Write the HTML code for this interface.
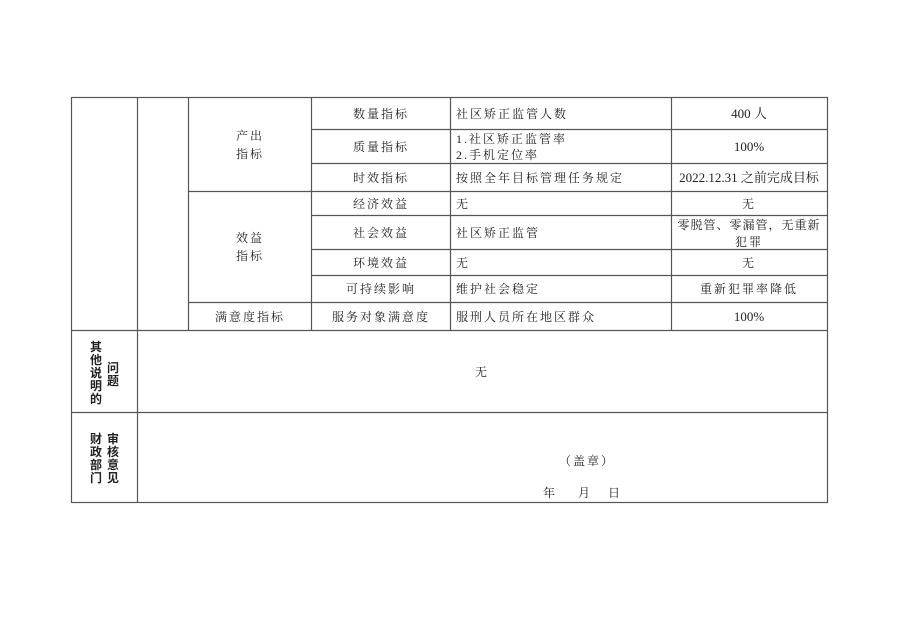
<!DOCTYPE html>
<html><head><meta charset="utf-8"><style>
html,body{margin:0;padding:0;background:#fff;width:898px;height:635px;overflow:hidden}
svg text{font-family:"Liberation Serif","Noto Serif CJK SC","Noto Sans CJK SC",serif;font-size:12px;fill:#222}
.s{font-family:"Liberation Sans","Noto Sans CJK SC",sans-serif;font-weight:bold}
</style></head><body>
<svg width="898" height="635" xmlns="http://www.w3.org/2000/svg">
<g stroke="#555" stroke-width="1.2" fill="none">
<rect x="71.5" y="97.5" width="756" height="405"/>
<line x1="137.5" y1="97" x2="137.5" y2="502"/>
<line x1="188.5" y1="97" x2="188.5" y2="330"/>
<line x1="311.5" y1="97" x2="311.5" y2="330"/>
<line x1="450.5" y1="97" x2="450.5" y2="330"/>
<line x1="671.5" y1="97" x2="671.5" y2="330"/>
<line x1="311" y1="129.5" x2="828" y2="129.5"/>
<line x1="311" y1="163.5" x2="828" y2="163.5"/>
<line x1="188" y1="191.5" x2="828" y2="191.5"/>
<line x1="311" y1="215.5" x2="828" y2="215.5"/>
<line x1="311" y1="249.5" x2="828" y2="249.5"/>
<line x1="311" y1="275.5" x2="828" y2="275.5"/>
<line x1="188" y1="302.5" x2="828" y2="302.5"/>
<line x1="71" y1="330.5" x2="828" y2="330.5"/>
<line x1="71" y1="412.5" x2="828" y2="412.5"/>
</g>
<g text-anchor="middle" letter-spacing="2">
<text x="250" y="140">产出</text><text x="250" y="158">指标</text>
<text x="250" y="242">效益</text><text x="250" y="260">指标</text>
<text x="250" y="321">满意度指标</text>
<text x="381" y="118">数量指标</text>
<text x="381" y="151">质量指标</text>
<text x="381" y="182">时效指标</text>
<text x="381" y="208">经济效益</text>
<text x="381" y="237">社会效益</text>
<text x="381" y="267">环境效益</text>
<text x="381" y="293">可持续影响</text>
<text x="381" y="321">服务对象满意度</text>
<text x="749" y="118" letter-spacing="0" style="font-size:13px">400 人</text>
<text x="749" y="151" letter-spacing="0" style="font-size:13px">100%</text>
<text x="749" y="182" letter-spacing="0" style="font-size:13px">2022.12.31 之前完成目标</text>
<text x="749" y="208">无</text>
<text x="749" y="229" letter-spacing="1">零脱管、零漏管，无重新</text>
<text x="749" y="246">犯罪</text>
<text x="749" y="267">无</text>
<text x="749" y="293">重新犯罪率降低</text>
<text x="749" y="321" letter-spacing="0" style="font-size:13px">100%</text>
<text x="482" y="376">无</text>
<text x="587" y="465">（盖章）</text>
</g>
<g letter-spacing="2">
<text x="456" y="118">社区矫正监管人数</text>
<text x="456" y="143">1.社区矫正监管率</text>
<text x="456" y="159">2.手机定位率</text>
<text x="456" y="182">按照全年目标管理任务规定</text>
<text x="456" y="208">无</text>
<text x="456" y="237">社区矫正监管</text>
<text x="456" y="267">无</text>
<text x="456" y="293">维护社会稳定</text>
<text x="456" y="321">服刑人员所在地区群众</text>
</g>
<text x="543" y="497">年</text><text x="578" y="497">月</text><text x="608" y="497">日</text>
<g>
<text class="s" x="90" y="351">其</text><text class="s" x="90" y="364">他</text><text class="s" x="90" y="377">说</text><text class="s" x="90" y="390">明</text><text class="s" x="90" y="403">的</text>
<text class="s" x="107" y="372">问</text><text class="s" x="107" y="385">题</text>
<text class="s" x="90" y="443">财</text><text class="s" x="90" y="456">政</text><text class="s" x="90" y="469">部</text><text class="s" x="90" y="482">门</text>
<text class="s" x="107" y="443">审</text><text class="s" x="107" y="456">核</text><text class="s" x="107" y="469">意</text><text class="s" x="107" y="482">见</text>
</g>
</svg>
</body></html>
